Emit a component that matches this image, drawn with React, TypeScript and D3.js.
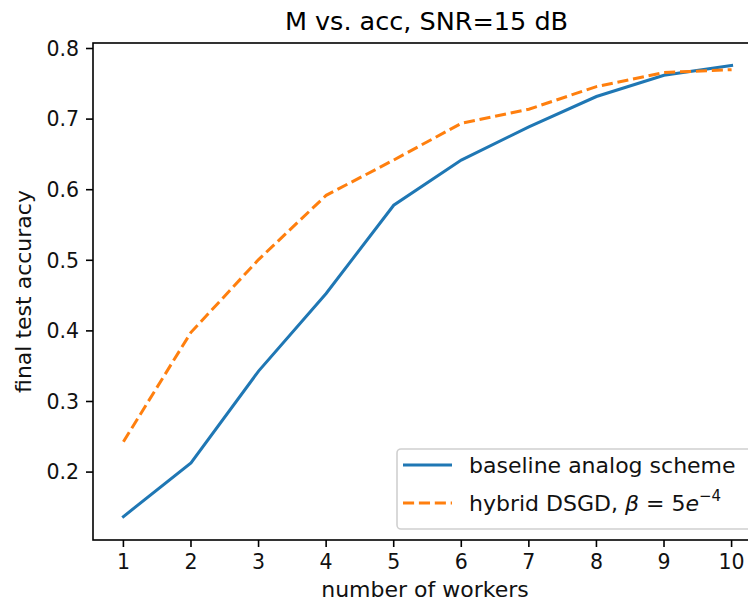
import React from "react";
import * as d3 from "d3";

const workers = [1, 2, 3, 4, 5, 6, 7, 8, 9, 10];
const baseline = [0.137, 0.213, 0.343, 0.453, 0.578, 0.642, 0.689, 0.732, 0.762, 0.776];
const hybrid = [0.243, 0.398, 0.501, 0.592, 0.642, 0.694, 0.714, 0.746, 0.766, 0.770];
const yTicks = [0.2, 0.3, 0.4, 0.5, 0.6, 0.7, 0.8];
const xTicks = [1, 2, 3, 4, 5, 6, 7, 8, 9, 10];

const W = 748, H = 602;
const L = 93, R = 762, T = 43, B = 540;
const FONT = "DejaVu Sans, sans-serif";

export default function App() {
  const x = d3.scaleLinear().domain([0.55, 10.45]).range([L, R]);
  const y = d3.scaleLinear().domain([0.1038, 0.8078]).range([B, T]);
  const line = d3
    .line<number>()
    .x((_, i) => x(workers[i]))
    .y((d) => y(d));
  const lx = 397, ly = 449, lw = 360, lh = 80;
  return (
    <svg width={W} height={H} style={{ position: "absolute", left: 0, top: 0 }} fontFamily={FONT}>
      <rect width={W} height={H} fill="white" />
      <text x={426.5} y={30} textAnchor="middle" fontSize={25.5} fill="#000">
        M vs. acc, SNR=15 dB
      </text>
      <path d={line(baseline) || ""} fill="none" stroke="#1f77b4" strokeWidth={3} strokeLinecap="square" />
      <path d={line(hybrid) || ""} fill="none" stroke="#ff7f0e" strokeWidth={3} strokeDasharray="11.1,4.8" />
      {/* spines */}
      <rect x={L} y={T} width={R - L} height={B - T} fill="none" stroke="#000" strokeWidth={1.6} />
      {yTicks.map((t) => (
        <g key={t}>
          <line x1={L - 7} x2={L} y1={y(t)} y2={y(t)} stroke="#000" strokeWidth={1.6} />
          <text x={L - 14} y={y(t)} dy="0.36em" textAnchor="end" fontSize={20.5} fill="#111">
            {t.toFixed(1)}
          </text>
        </g>
      ))}
      {xTicks.map((t) => (
        <g key={t}>
          <line x1={x(t)} x2={x(t)} y1={B} y2={B + 7} stroke="#000" strokeWidth={1.6} />
          <text x={x(t)} y={569} textAnchor="middle" fontSize={20.5} fill="#111">
            {t}
          </text>
        </g>
      ))}
      <text x={425} y={597} textAnchor="middle" fontSize={22} fill="#111">
        number of workers
      </text>
      <text transform={`translate(31,${(T + B) / 2}) rotate(-90)`} textAnchor="middle" fontSize={22} fill="#111">
        final test accuracy
      </text>
      {/* legend */}
      <rect x={lx} y={ly} width={lw} height={lh} rx={4} fill="white" fillOpacity={0.8} stroke="#d0d0d0" strokeWidth={1.6} />
      <line x1={403} x2={452} y1={465} y2={465} stroke="#1f77b4" strokeWidth={3} />
      <text x={469} y={465} dy="0.36em" fontSize={22} fill="#111">
        baseline analog scheme
      </text>
      <line x1={403} x2={452} y1={503} y2={503} stroke="#ff7f0e" strokeWidth={3} strokeDasharray="11.1,4.8" />
      <text x={469} y={503} dy="0.36em" fontSize={22} fill="#111">
        hybrid DSGD, <tspan fontStyle="italic">β</tspan> = 5<tspan fontStyle="italic">e</tspan>
        <tspan dy="-10" fontSize={15}>−4</tspan>
      </text>
    </svg>
  );
}
